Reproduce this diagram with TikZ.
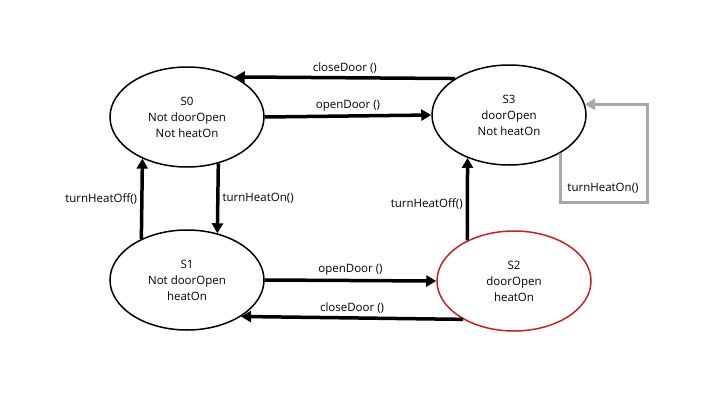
\documentclass[tikz,border=0pt]{standalone}
\usepackage{fontspec}
\setmainfont{Open Sans}
\usetikzlibrary{arrows.meta,shapes.geometric}
\definecolor{stateRed}{RGB}{200,32,36}
\definecolor{loopGray}{RGB}{168,168,168}

\tikzset{
	state/.style={draw, ellipse, line width=1.5pt, minimum width=154pt, minimum height=100pt, inner sep=0pt, align=center, font=\fontsize{11.5}{16}\selectfont},
	trans/.style={line width=3.5pt, -{Triangle[length=10pt,width=11pt]}},
	lbl/.style={font=\fontsize{11.5}{13}\selectfont, inner sep=3pt}
}

\begin{document}
\begin{tikzpicture}[x=1pt, y=-1pt]
			%%%%% START %%%%%
			\useasboundingbox (0, 0) rectangle (720, 405);
			
			\node[state] (s0) at (187, 117) {S0\\Not doorOpen\\Not heatOn};
			\node[state] (s3) at (509, 115) {S3\\doorOpen\\Not heatOn};
			\node[state] (s1) at (187, 280) {S1\\Not doorOpen\\heatOn};
			\node[state, draw=stateRed] (s2) at (514, 281) {S2\\doorOpen\\heatOn};
			
			\draw[trans] (s3.146) -- node[lbl, above] {closeDoor ()} (s0.40);
			\draw[trans] (s0.east) -- node[lbl, above] {openDoor ()} (s3.west);
			
			\draw[trans] (s1.138) -- node[lbl, left] {turnHeatOff()} (s0.223);
			\draw[trans] (s0.304) -- node[lbl, right] {turnHeatOn()} (s1.57);
			\draw[trans] (s2.139) -- node[lbl, left, yshift=-5pt] {turnHeatOff()} (s3.226);
			
			\draw[trans] (s1.east) -- node[lbl, above] {openDoor ()} (s2.west);
			\draw[trans] (s2.217) -- node[lbl, above] {closeDoor ()} (s1.326);
			
			\coordinate (loopc) at (647, 202);
			\draw[trans, color=loopGray, line width=3pt, line join=miter] (s3.324) |- (loopc) |- (s3.8);
			\node[lbl] (loopl) at (603, 188) {turnHeatOn()};
			%%%%% END %%%%%
\end{tikzpicture}
\end{document}
